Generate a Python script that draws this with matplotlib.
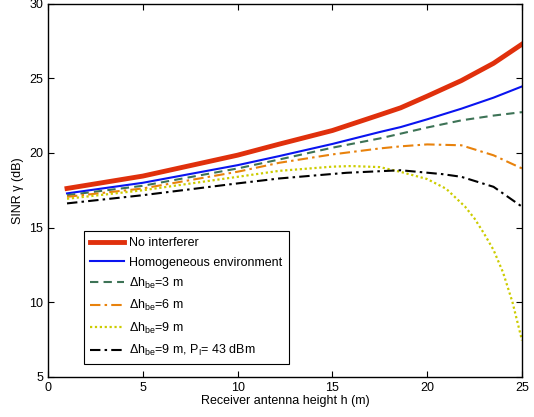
import numpy as np
import matplotlib
matplotlib.use('Agg')
import matplotlib.pyplot as plt

#### data ####

h_main = [1, 5, 10, 12.2, 15, 17.5, 18.6, 20, 21.8, 23.5, 25]
sinr_no_interf = [17.62, 18.45, 19.85, 20.59, 21.5, 22.55, 23.02, 23.8, 24.84, 26.0, 27.28]
sinr_homog = [17.29, 18.0, 19.18, 19.79, 20.6, 21.4, 21.73, 22.25, 22.96, 23.7, 24.45]
sinr_3m = [17.17, 17.8, 18.96, 19.56, 20.35, 20.97, 21.29, 21.7, 22.18, 22.5, 22.73]
sinr_6m = [17.06, 17.62, 18.74, 19.34, 19.9, 20.3, 20.44, 20.57, 20.51, 19.84, 18.96]

h_9m = [1, 5, 10, 12.2, 15, 16, 17.5, 18.6, 20, 21, 22, 22.5, 23, 23.5, 24, 24.5, 25]
sinr_9m = [16.93, 17.5, 18.4, 18.8, 19.08, 19.12, 19.05, 18.73, 18.25, 17.6, 16.4, 15.6, 14.6, 13.5, 12.0, 10.0, 7.45]

h_9m_p = [1, 5, 10, 12.2, 15.75, 18.6, 20.8, 21.8, 23.5, 25]
sinr_9m_p = [16.62, 17.17, 17.96, 18.29, 18.67, 18.84, 18.58, 18.4, 17.73, 16.4]

labels = ['No interferer',
          'Homogeneous environment',
          r'$\Delta$h$_{\mathrm{be}}$=3 m',
          r'$\Delta$h$_{\mathrm{be}}$=6 m',
          r'$\Delta$h$_{\mathrm{be}}$=9 m',
          r'$\Delta$h$_{\mathrm{be}}$=9 m, P$_{\mathrm{I}}$= 43 dBm']

x_ticks = [0, 5, 10, 15, 20, 25]
y_ticks = [5, 10, 15, 20, 25, 30]

#### style ####

plt.rcParams['font.family'] = ['Liberation Sans', 'DejaVu Sans']
plt.rcParams['mathtext.fontset'] = 'custom'
plt.rcParams['mathtext.rm'] = 'Liberation Sans'
plt.rcParams['mathtext.it'] = 'Liberation Sans:italic'
plt.rcParams['font.size'] = 9

fig = plt.figure(figsize=(5.34, 4.17), dpi=100, facecolor='w')
ax = fig.add_axes([0.09, 0.096, 0.8875, 0.8955])

ax.plot(h_main, sinr_no_interf, color='#e0300c', lw=3.5, label=labels[0])
ax.plot(h_main, sinr_homog, color='#0a14f0', lw=1.5, label=labels[1])
ax.plot(h_main, sinr_3m, color='#3d7356', lw=1.5, ls=(0, (4, 2.5)), label=labels[2])
ax.plot(h_main, sinr_6m, color='#e8820c', lw=1.5, ls=(0, (5, 2, 1.2, 2)), label=labels[3])
ax.plot(h_9m, sinr_9m, color='#cccc00', lw=1.6, ls=(0, (1, 1.2)), label=labels[4])
ax.plot(h_9m_p, sinr_9m_p, color='black', lw=1.5, ls=(0, (5, 2, 1.2, 2)), label=labels[5])

ax.set_xlim(0, 25)
ax.set_ylim(5, 30)
ax.set_xticks(x_ticks)
ax.set_yticks(y_ticks)
ax.tick_params(direction='in', top=True, right=True, length=4, width=0.8, labelsize=9)
for axis in ['top', 'bottom', 'left', 'right']:
    ax.spines[axis].set_linewidth(1.0)

ax.set_xlabel('Receiver antenna height h (m)', fontsize=9, labelpad=1)
ax.set_ylabel('SINR γ (dB)', fontsize=9, labelpad=4)

leg = ax.legend(loc='lower left', bbox_to_anchor=(0.076, 0.034), fancybox=False,
                edgecolor='black', framealpha=1, handlelength=2.7, handletextpad=0.4,
                labelspacing=0.58, borderpad=0.5, borderaxespad=0, fontsize=9)
leg.get_frame().set_linewidth(0.8)

plt.savefig('out.png', dpi=100)
